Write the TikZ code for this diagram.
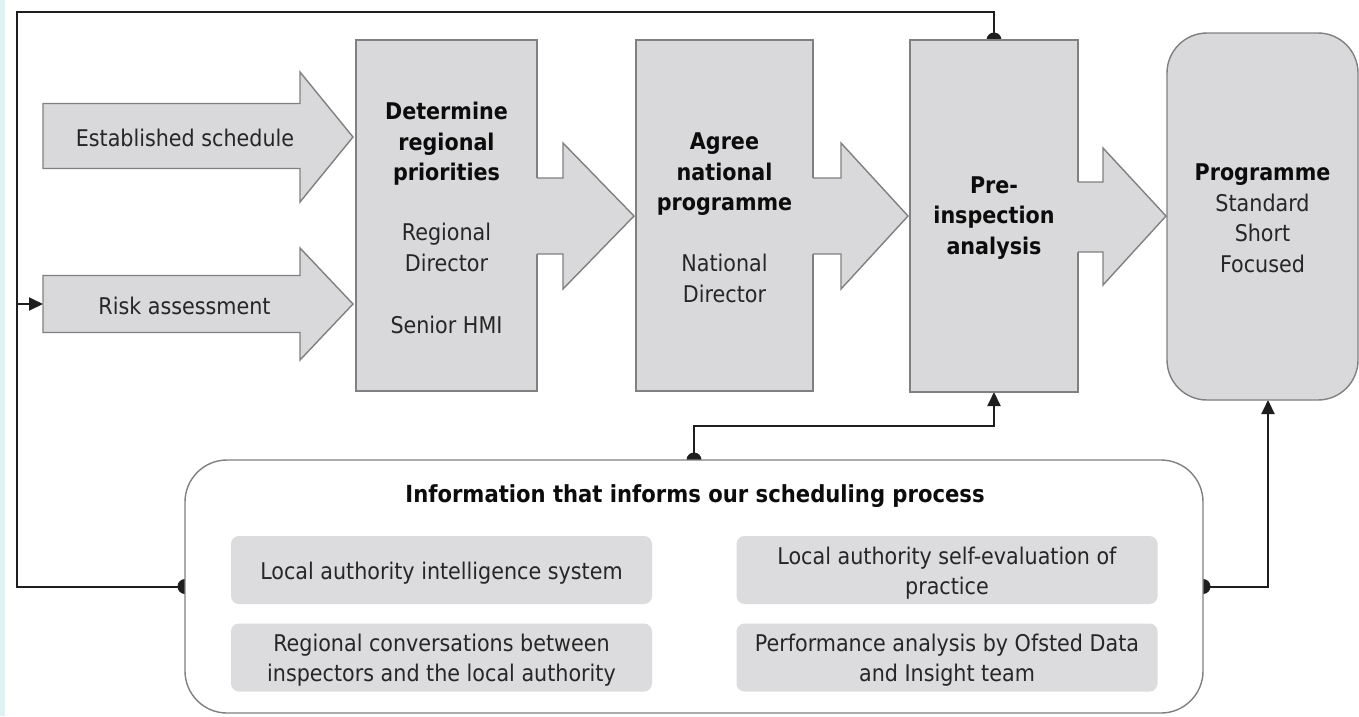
\documentclass[tikz,border=0pt]{standalone}
\usepackage{fontspec}
\setmainfont{DejaVu Sans Condensed}
\usetikzlibrary{arrows.meta,backgrounds}
\definecolor{boxfill}{RGB}{217,217,219}
\definecolor{boxline}{RGB}{128,128,128}
\definecolor{subfill}{RGB}{220,220,222}
\definecolor{conncol}{RGB}{30,30,30}
\definecolor{txt}{RGB}{38,38,38}
\definecolor{bold}{RGB}{12,12,12}
\definecolor{strip}{RGB}{222,241,243}
\newcommand\bline[1]{{\color{bold}\bfseries #1}}
\begin{document}
\begin{tikzpicture}[x=1pt,y=-1pt,
  every node/.style={font=\fontsize{23}{30.5}\selectfont, text=txt, inner sep=0pt, outer sep=0pt},
  shp/.style={fill=boxfill, draw=boxline, line width=1.4pt},
  procbox/.style={shp, rectangle, align=center},
  progbox/.style={shp, rectangle, rounded corners=40pt, align=center},
  infobox/.style={fill=white, draw=boxline, line width=1.4pt, rounded corners=42pt},
  subbox/.style={fill=subfill, rounded corners=8pt, minimum width=421pt, minimum height=68pt},
  subtext/.style={align=center, font=\fontsize{23}{29.5}\selectfont},
  conn/.style={draw=conncol, line width=2pt},
  tip/.style={-{Triangle[length=14pt,width=13pt]}},
  dot/.style={fill=conncol},
  outl/.style={draw=boxline, line width=1.4pt, line join=miter},
  title/.style={font=\fontsize{23.5}{30}\selectfont\bfseries, text=bold}
]
\useasboundingbox (0,0) rectangle (1359,716);

% input arrows
\draw[shp] (43,103.5) -- (300,103.5) -- (300,72) -- (353,137) -- (300,202) -- (300,168.5) -- (43,168.5) -- cycle;
\node (est) at (185,138) {Established schedule};
\draw[shp] (43,275.5) -- (300,275.5) -- (300,248) -- (353,304) -- (300,360) -- (300,332.5) -- (43,332.5) -- cycle;
\node (risk) at (184.5,306) {Risk assessment};
\coordinate (riskL) at (43,304);

% process boxes
\node[procbox, minimum width=181pt, minimum height=351pt] (b1) at (446.5,215.5) {};
\node[align=center] (b1t) at (446.5,218)
  {\bline{Determine}\\ \bline{regional}\\ \bline{priorities}\\[29.5pt] Regional\\ Director\\[31.5pt] Senior HMI};
\node[procbox, minimum width=177pt, minimum height=351pt] (b2) at (724.5,215.5) {};
\node[align=center] (b2t) at (724.5,218)
  {\bline{Agree}\\ \bline{national}\\ \bline{programme}\\[30.5pt] National\\ Director};
\node[procbox, minimum width=168pt, minimum height=352pt] (pre) at (994,216) {};
\node[align=center] (pret) at (994,218) {\bline{Pre-}\\ \bline{inspection}\\ \bline{analysis}};
\node[progbox, minimum width=191pt, minimum height=367pt] (prog) at (1262.5,216.5) {};
\node[align=center] (progt) at (1262.5,218.5) {\bline{Programme}\\ Standard\\ Short\\ Focused};

% arrow protrusions
\fill[boxfill] (535,178) -- (563,178) -- (563,143) -- (634,216) -- (563,289) -- (563,254) -- (535,254) -- cycle;
\draw[outl] (537,178) -- (563,178) -- (563,143) -- (634,216) -- (563,289) -- (563,254) -- (537,254);
\fill[boxfill] (811,178) -- (841,178) -- (841,143) -- (908,216) -- (841,289) -- (841,254) -- (811,254) -- cycle;
\draw[outl] (813,178) -- (841,178) -- (841,143) -- (908,216) -- (841,289) -- (841,254) -- (813,254);
\fill[boxfill] (1076,182) -- (1103,182) -- (1103,148) -- (1166,216) -- (1103,285) -- (1103,252) -- (1076,252) -- cycle;
\draw[outl] (1078,182) -- (1103,182) -- (1103,148) -- (1166,216) -- (1103,285) -- (1103,252) -- (1078,252);

% information box
\node[infobox, minimum width=1018pt, minimum height=253pt] (info) at (694,586.5) {};
\node[title] (ttl) at (695,496.5) {Information that informs our scheduling process};
\node[subbox] (s1) at (441.5,570) {};
\node[subtext] (s1t) at (441.5,573) {Local authority intelligence system};
\node[subbox] (s2) at (441.5,657.5) {};
\node[subtext] (s2t) at (441.5,660) {Regional conversations between\\ inspectors and the local authority};
\node[subbox] (s3) at (947,570) {};
\node[subtext] (s3t) at (947,573) {Local authority self-evaluation of\\ practice};
\node[subbox] (s4) at (947,657.5) {};
\node[subtext] (s4t) at (947,660) {Performance analysis by Ofsted Data\\ and Insight team};

\coordinate (tl) at (17,12);
\coordinate (jr) at (17,304);
\coordinate (lv) at (0,426);

\begin{scope}[on background layer]
  \fill[white] (0,0) rectangle (1359,716);
  \fill[strip] (0,0) rectangle (5,716);
  \draw[conn] (info.west) -| (tl) -| (pre.north);
  \draw[conn, tip] (jr) -- (riskL);
  \draw[conn, tip] (info.north) -- (info.north |- lv) -| (pre.south);
  \draw[conn, tip] (info.east) -| ([xshift=5.5pt]prog.south);
  \fill[dot] (info.west) circle[radius=7.5pt];
  \fill[dot] (info.north) circle[radius=7.5pt];
  \fill[dot] (info.east) circle[radius=7.5pt];
  \fill[dot] (pre.north) circle[radius=7.5pt];
\end{scope}
\end{tikzpicture}
\end{document}
